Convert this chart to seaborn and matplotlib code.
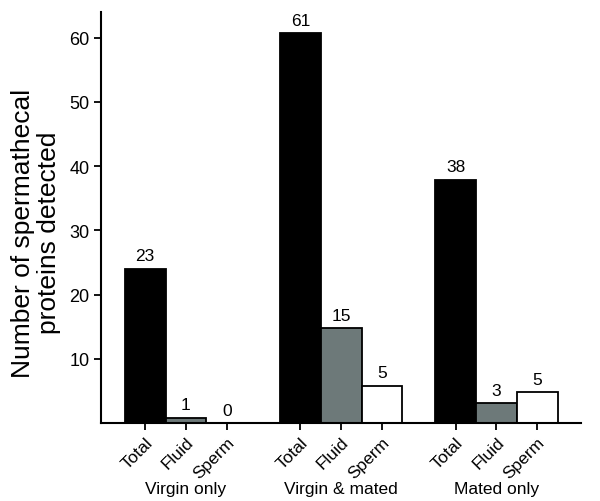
import numpy as np
import pandas as pd
import matplotlib
matplotlib.use("Agg")
import matplotlib.pyplot as plt
import seaborn as sns

# data
groups = ["Virgin only", "Virgin & mated", "Mated only"]
fractions = ["Total", "Fluid", "Sperm"]
# printed counts above each bar
counts = [23, 1, 0, 61, 15, 5, 38, 3, 5]
# bar heights as drawn
heights = [24, 0.8, 0, 60.7, 14.8, 5.8, 37.9, 3.1, 4.8]
colors = {"Total": "#000000", "Fluid": "#6b7b7b", "Sperm": "#ffffff"}

sns.set_style("ticks")
plt.rcParams["font.family"] = ["Liberation Sans", "DejaVu Sans"]
plt.rcParams["text.color"] = "black"
plt.rcParams["xtick.color"] = "black"
plt.rcParams["ytick.color"] = "black"
plt.rcParams["axes.labelcolor"] = "black"

gap = 3.81
rows = []
for g, grp in enumerate(groups):
    for i, fr in enumerate(fractions):
        rows.append({"pos": g * gap + i, "group": grp, "fraction": fr})
df = pd.DataFrame(rows)
df["height"] = heights
df["count"] = counts

fig = plt.figure(figsize=(6, 5.02), dpi=100)
ax = fig.add_axes([0.168, 0.155, 0.8, 0.819])

sns.barplot(data=df, x="pos", y="height", hue="fraction", palette=colors,
            native_scale=True, width=1, dodge=False, edgecolor="black",
            linewidth=1.3, legend=False, ax=ax)

for _, r in df.iterrows():
    ax.annotate(str(r["count"]), (r["pos"], r["height"]), xytext=(0, 4),
                textcoords="offset points", ha="center", va="bottom", fontsize=12.5)

ax.set_xlim(-1.09, 10.69)
ax.set_ylim(0, 64)
ax.set_yticks([10, 20, 30, 40, 50, 60])
ax.set_yticklabels(["10", "20", "30", "40", "50", "60"], fontsize=13)
ax.set_xticks(df["pos"])
ax.set_xticklabels(df["fraction"], rotation=45, ha="right",
                   rotation_mode="anchor", fontsize=12.5)
ax.tick_params(axis="both", length=5, width=1.3, color="black", pad=3)
ax.set_xlabel("")
ax.set_ylabel("Number of spermathecal\nproteins detected", fontsize=19,
              linespacing=1.1)
ax.yaxis.set_label_coords(-0.083, 0.465)
for s in ["left", "bottom"]:
    ax.spines[s].set_linewidth(1.5)
    ax.spines[s].set_color("black")
sns.despine(ax=ax)

for g, grp in enumerate(groups):
    ax.text(g * gap + 1, -0.14, grp, transform=ax.get_xaxis_transform(),
            ha="center", va="top", fontsize=12.5)

fig.savefig("out.png", dpi=100)
